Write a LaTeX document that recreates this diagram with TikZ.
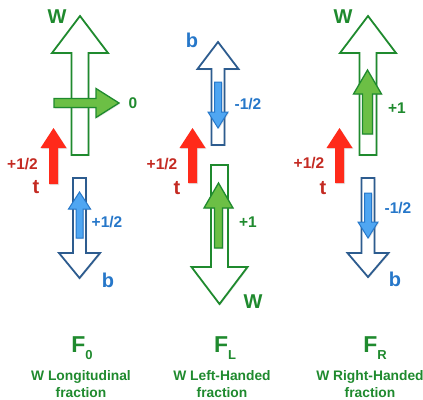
\documentclass[tikz,border=0pt]{standalone}
\usepackage{fontspec}
\setmainfont{Liberation Sans}
\usetikzlibrary{shadows}

\definecolor{wgreen}{HTML}{1F8A2E}
\definecolor{lgreen}{HTML}{6CBF45}
\definecolor{tred}{HTML}{FF2A1A}
\definecolor{labred}{HTML}{C42A22}
\definecolor{bdark}{HTML}{2D5C8F}
\definecolor{bfill}{HTML}{4FA6F2}
\definecolor{blab}{HTML}{2677C9}

% vertical block arrow: style, x, tip y, head-base y, head half-width, shaft half-width, tail y
\newcommand\varw[7]{%
  \draw[#1] ({#2-#6},#7) -- ({#2-#6},#4) -- ({#2-#5},#4) -- (#2,#3)
    -- ({#2+#5},#4) -- ({#2+#6},#4) -- ({#2+#6},#7) -- cycle;}
% horizontal block arrow: style, y, tip x, head-base x, head half-width, shaft half-width, tail x
\newcommand\harw[7]{%
  \draw[#1] (#7,{#2-#6}) -- (#4,{#2-#6}) -- (#4,{#2-#5}) -- (#3,#2)
    -- (#4,{#2+#5}) -- (#4,{#2+#6}) -- (#7,{#2+#6}) -- cycle;}

\tikzset{
  shd/.style={drop shadow={opacity=0.22,shadow xshift=1pt,shadow yshift=-1pt}},
  wout/.style={draw=wgreen,line width=1.8pt,fill=white,line join=miter,shd},
  bout/.style={draw=bdark,line width=1.8pt,fill=white,line join=miter,shd},
  gin/.style={draw=wgreen,line width=1.3pt,fill=lgreen,line join=miter,shd},
  bin/.style={draw=blab,line width=1pt,fill=bfill,line join=miter,shd},
  tarw/.style={fill=tred,draw=none,shd},
  big/.style={font=\fontsize{20}{20}\selectfont\bfseries},
  lab/.style={font=\fontsize{15.5}{15.5}\selectfont\bfseries},
  wlab/.style={big,text=wgreen},
  blet/.style={big,text=blab},
  tlet/.style={big,text=labred},
  rlab/.style={lab,text=labred},
  blabel/.style={lab,text=blab},
  glab/.style={lab,text=wgreen},
  ftitle/.style={text=wgreen,font=\fontsize{23}{23}\selectfont\bfseries},
  fsub/.style={text=wgreen,align=center,font=\fontsize{13.8}{17}\selectfont\bfseries},
}
\newcommand\fsubsc[1]{\raisebox{-0.28em}{\fontsize{13}{13}\selectfont #1}}

\begin{document}
\begin{tikzpicture}[x=1pt,y=-1pt]
\useasboundingbox (0,0) rectangle (423,399);

% ---- longitudinal W ----
\varw{wout}{80}{16}{53}{28}{8.5}{155}
\harw{gin}{103}{119}{96}{14.5}{4.5}{54}
\varw{tarw}{53.5}{128}{148}{13}{4.5}{184}
\varw{bout}{79.5}{278}{253}{20.5}{6.5}{178}
\varw{bin}{79.5}{192}{209}{11}{3.5}{238}
\node[wlab] (w1) at (57,17) {W};
\node[glab] (z1) at (133,103) {0};
\node[rlab] (tp1) at (22.5,164) {+1/2};
\node[tlet] (t1) at (36,187) {t};
\node[blabel] (bp1) at (107,222) {+1/2};
\node[blet] (b1) at (108,280) {b};

% ---- left-handed W ----
\varw{bout}{218}{42}{69}{20.5}{6.5}{145}
\varw{bin}{218}{128}{112}{10}{3.5}{82}
\varw{tarw}{192.5}{128}{148}{13}{4.5}{183}
\varw{wout}{219.5}{304}{267}{28}{8.5}{165}
\varw{gin}{218.5}{183}{208}{14.5}{4}{248}
\node[blet] (b2) at (192,40) {b};
\node[blabel] (bm2) at (248,104) {-1/2};
\node[rlab] (tp2) at (162,164) {+1/2};
\node[tlet] (t2) at (177,188) {t};
\node[glab] (g2) at (248,222) {+1};
\node[wlab] (w2) at (253,302) {W};

% ---- right-handed W ----
\varw{wout}{368}{16}{53}{28}{8.5}{155}
\varw{gin}{367.5}{70}{94}{14}{5}{134}
\varw{tarw}{339.5}{128}{148}{13}{4.5}{183}
\varw{bout}{368}{277}{253}{20.5}{6.5}{178}
\varw{bin}{368}{238}{222}{10}{3.5}{193}
\node[wlab] (w3) at (343,17) {W};
\node[glab] (g3) at (397,108) {+1};
\node[rlab] (tp3) at (309,163) {+1/2};
\node[tlet] (t3) at (323,188) {t};
\node[blabel] (bm3) at (398,208) {-1/2};
\node[blet] (b3) at (395,279) {b};

% ---- fraction titles ----
\node[ftitle] (f0) at (82,348) {F\fsubsc{0}};
\node[ftitle] (fl) at (225,348) {F\fsubsc{L}};
\node[ftitle] (fr) at (375,348) {F\fsubsc{R}};
\node[fsub,anchor=north] (s0) at (81,367) {W Longitudinal\\fraction};
\node[fsub,anchor=north] (sl) at (222,367) {W Left-Handed\\fraction};
\node[fsub,anchor=north] (sr) at (370,367) {W Right-Handed\\fraction};
\end{tikzpicture}
\end{document}
